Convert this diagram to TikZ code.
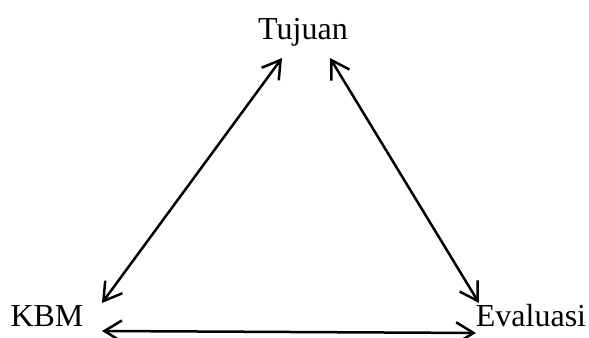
\documentclass[tikz,border=0pt]{standalone}
\usepackage{fontspec}
\setmainfont{Liberation Serif}
\usetikzlibrary{arrows.meta}

\begin{document}
\begin{tikzpicture}[x=0.4pt, y=-0.4pt,
    every node/.style={font=\fontsize{12.8}{14}\selectfont, inner sep=0pt},
    link/.style={{Straight Barb[length=7pt,width=8.5pt]}-{Straight Barb[length=7pt,width=8.5pt]}, line width=1pt}]
  \useasboundingbox (0,0) rectangle (589,338);
  % Three corners
  \node[anchor=base] (tujuan) at (303,40) {Tujuan};
  \node[anchor=base] (kbm) at (47,327) {KBM};
  \node[anchor=base] (evaluasi) at (531,327) {Evaluasi};
  % Arrow ends
  \coordinate (tujuan-l) at (282,58);
  \coordinate (tujuan-r) at (330,58);
  \coordinate (kbm-t) at (102,303);
  \coordinate (kbm-r) at (102,331);
  \coordinate (evaluasi-t) at (479,303);
  \coordinate (evaluasi-l) at (476,333);
  % Arrows
  \draw[link] (kbm-t) -- (tujuan-l);
  \draw[link] (tujuan-r) -- (evaluasi-t);
  \draw[link] (kbm-r) -- (evaluasi-l);
\end{tikzpicture}
\end{document}
